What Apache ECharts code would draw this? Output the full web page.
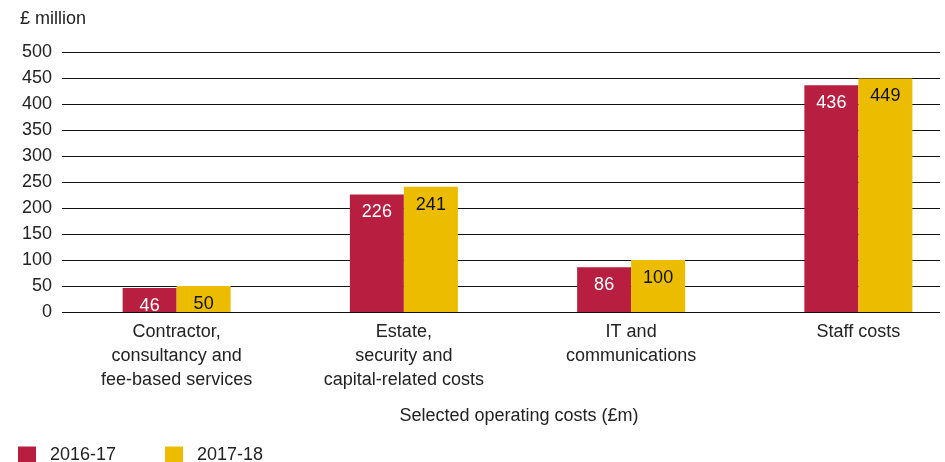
<!DOCTYPE html>
<html><head><meta charset="utf-8">
<script src="https://cdn.jsdelivr.net/npm/echarts@6/dist/echarts.min.js"></script>
<style>html,body{margin:0;padding:0;background:#fff}#c{width:945px;height:462px}</style>
</head><body><div id="c"></div>
<script>
const categories = ["Contractor,\nconsultancy and\nfee-based services", "Estate,\nsecurity and\ncapital-related costs", "IT and\ncommunications", "Staff costs"];
const seriesNames = ["2016-17", "2017-18"];
const values2016 = [46, 226, 86, 436];
const values2017 = [50, 241, 100, 449];
const yTicks = [0, 50, 100, 150, 200, 250, 300, 350, 400, 450, 500];

const font = "'Liberation Sans', Arial, sans-serif";
const fs = 18;
const chart = echarts.init(document.getElementById('c'));
chart.setOption({
  animation: false,
  textStyle: {fontFamily: font},
  grid: [
    {left: 62, width: 878, top: 52, height: 260, outerBoundsMode: 'none'},
    {left: 63, width: 909, top: 52, height: 260, outerBoundsMode: 'none'}
  ],
  legend: {
    left: 13, top: 441, itemWidth: 18, itemHeight: 17, itemGap: 49,
    icon: 'rect',
    textStyle: {fontSize: fs, color: '#222', fontFamily: font, padding: [0,0,0,9]},
    data: seriesNames
  },
  graphic: [
    {type: 'text', x: 20, y: 10, style: {text: '£ million', fill: '#222', font: fs + "px 'Liberation Sans', Arial, sans-serif"}},
    {type: 'text', x: 519, y: 407, style: {text: 'Selected operating costs (£m)', align: 'center', fill: '#222', font: fs + "px 'Liberation Sans', Arial, sans-serif"}}
  ],
  xAxis: [
    {gridIndex: 0, type: 'category', data: categories, show: false},
    {gridIndex: 1, type: 'category', data: categories,
     axisLine: {show: false}, axisTick: {show: false},
     axisLabel: {interval: 0, fontSize: fs, color: '#222', lineHeight: 24, margin: 8, fontFamily: font}}
  ],
  yAxis: [
    {gridIndex: 0, type: 'value', min: yTicks[0], max: yTicks[yTicks.length-1], interval: 50,
     axisLine: {show: false}, axisTick: {show: false},
     splitLine: {lineStyle: {color: '#111', width: 1}},
     axisLabel: {fontSize: fs, color: '#222', margin: 10, fontFamily: font}},
    {gridIndex: 1, type: 'value', min: 0, max: 500, interval: 50, show: false, splitLine: {show: false}}
  ],
  series: [
    {name: seriesNames[0], type: 'bar', xAxisIndex: 1, yAxisIndex: 1, data: values2016,
     barWidth: 54, barGap: '0%', itemStyle: {color: '#B71E3F'},
     label: {show: true, position: 'insideTop', distance: 9, color: '#fff', fontSize: fs, fontFamily: font}},
    {name: seriesNames[1], type: 'bar', xAxisIndex: 1, yAxisIndex: 1, data: values2017,
     barWidth: 54, barGap: '0%', itemStyle: {color: '#EBBC00'},
     label: {show: true, position: 'insideTop', distance: 9, color: '#111', fontSize: fs, fontFamily: font}}
  ]
});
</script></body></html>
